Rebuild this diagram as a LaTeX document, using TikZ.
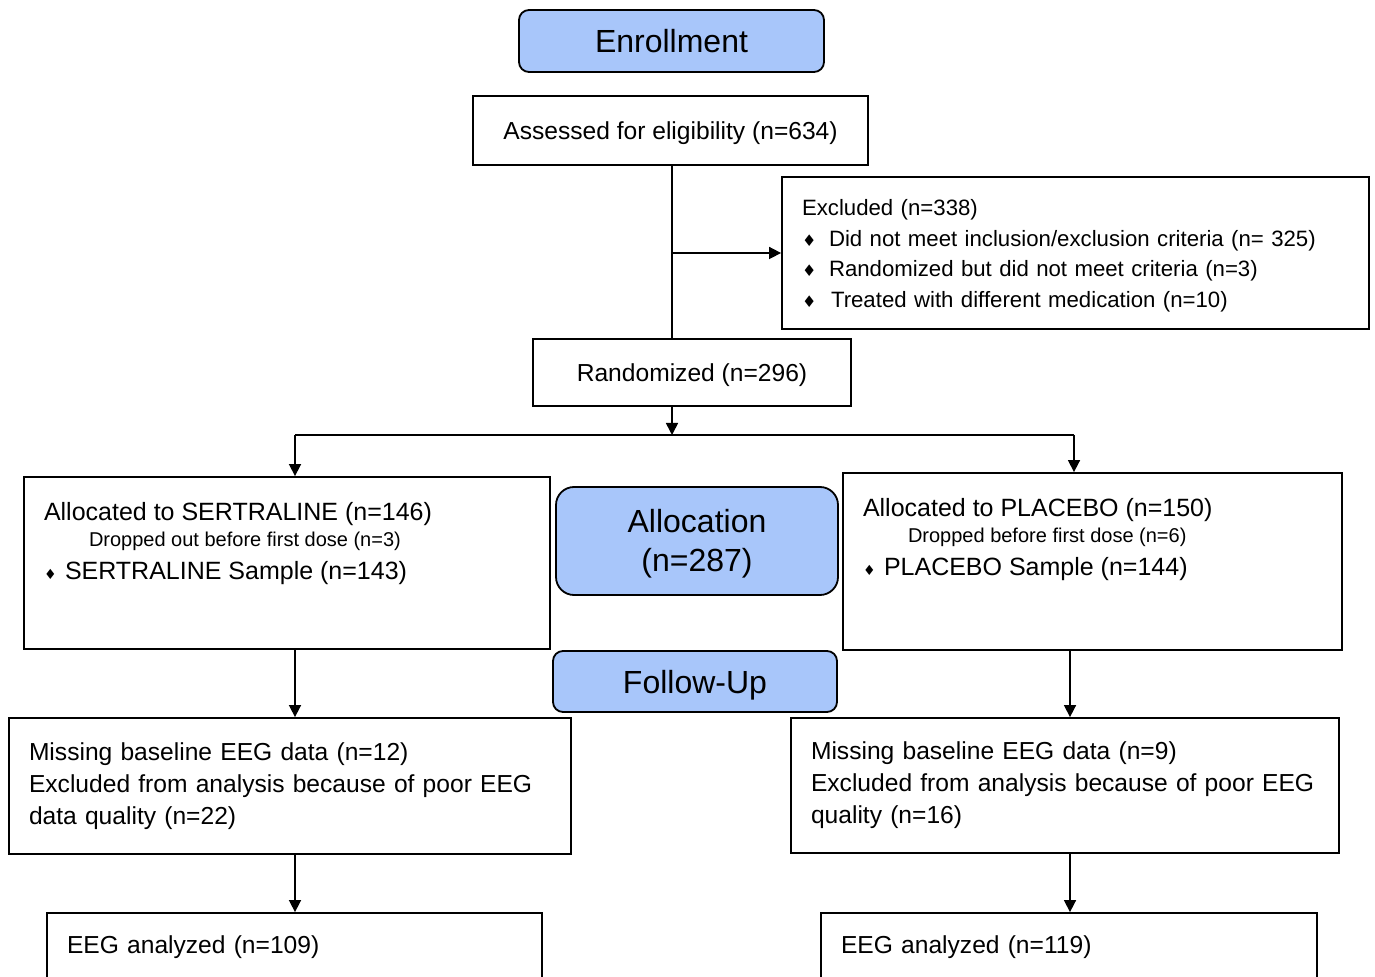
\documentclass[tikz,border=0pt]{standalone}
\usepackage{fontspec}
\setmainfont{Liberation Sans}
\newfontfamily\dejavu{DejaVu Sans}
\usetikzlibrary{arrows.meta,positioning}
\definecolor{headblue}{RGB}{168,198,250}
\newcommand{\dmd}[2]{\makebox[#2][l]{\dejavu\fontsize{#1}{#1}\selectfont ♦}}

\begin{document}
\begin{tikzpicture}[x=0.5pt,y=-0.5pt,
  box/.style={draw,line width=0.9pt,inner sep=0pt,font=\fontsize{12.3}{16}\selectfont},
  onebox/.style={box,text height=9pt,text depth=0pt},
  head/.style={box,fill=headblue,rounded corners=5pt,font=\fontsize{16}{19.5}\selectfont,align=center,
    text height=11.5pt,text depth=0pt},
  listbox/.style={box,align=left,inner xsep=10pt},
  armbox/.style={box,inner xsep=10pt,font=\fontsize{12.5}{16}\selectfont},
  arr/.style={line width=0.8pt,-{Triangle[length=6pt,width=6pt]}},
  link/.style={line width=0.8pt}]
  \useasboundingbox (0,0) rectangle (1375,977);

  % enrollment
  \node[head,minimum width=152.5pt,minimum height=31pt] (enrol) at (671.5,41) {Enrollment};
  \node[onebox,minimum width=197.5pt,minimum height=34.5pt] (assess) at (670.5,130.5) {Assessed for eligibility (n=634)};
  \node[listbox,text width=273.5pt,minimum height=76pt,font=\fontsize{11.1}{15.3}\selectfont] (excl) at (1075.5,253)
    {\rule{0pt}{11pt}Excluded (n=338)\\
     \dmd{8}{13.5pt}Did not meet inclusion/exclusion criteria (n= 325)\\
     \dmd{8}{13.5pt}Randomized but did not meet criteria (n=3)\\
     \dmd{8}{14.5pt}Treated with different medication (n=10)};
  \node[onebox,minimum width=159pt,minimum height=33.5pt] (rand) at (692,372.5) {Randomized (n=296)};

  % allocation
  \node[armbox,minimum height=86pt] (sert) at (287,563)
    {\parbox[c][61pt][t]{243pt}{\raggedright
     Allocated to SERTRALINE (n=146)\\[-3pt]
     {\fontsize{10}{13}\selectfont\hspace*{22.5pt}Dropped out before first dose (n=3)}\\[0.5pt]
     \dmd{7}{10.5pt}SERTRALINE Sample (n=143)}};
  \node[head,rounded corners=9pt,minimum width=141pt,minimum height=54pt,text height=31pt] (alloc) at (697,541) {Allocation\\(n=287)};
  \node[armbox,minimum height=88.5pt] (plac) at (1092.5,561.5)
    {\parbox[c][63.5pt][t]{229.5pt}{\raggedright
     Allocated to PLACEBO (n=150)\\[-3pt]
     {\fontsize{10}{13}\selectfont\hspace*{22.5pt}Dropped before first dose (n=6)}\\[0.5pt]
     \dmd{7}{10.5pt}PLACEBO Sample (n=144)}};

  % follow-up
  \node[head,minimum width=142pt,minimum height=30.5pt] (follow) at (695,681.5) {Follow-Up};
  \node[listbox,text width=261pt,minimum height=68pt] (follL) at (290,786)
    {Missing baseline EEG data (n=12)\\
     Excluded from analysis because of poor EEG\\
     data quality (n=22)};
  \node[listbox,text width=254pt,minimum height=67.5pt] (follR) at (1065,785.5)
    {Missing baseline EEG data (n=9)\\
     Excluded from analysis because of poor EEG\\
     quality (n=16)};
  \node[listbox,text width=227.5pt,minimum height=34pt] (eegL) at (294.5,947) {EEG analyzed (n=109)};
  \node[listbox,text width=228pt,minimum height=34pt] (eegR) at (1069,947) {EEG analyzed (n=119)};

  % connectors
  \coordinate (split) at (672,435);
  \coordinate (splitL) at (295,435);
  \coordinate (splitR) at (1074,435);
  \coordinate (colR) at (1070,435);
  \draw[link] (split |- assess.south) -- (split |- rand.north);
  \draw[arr] (split |- excl.west) -- (excl.west);
  \draw[arr] (split |- rand.south) -- (split);
  \draw[link] (splitL) -- (splitR);
  \draw[arr] (splitL) -- (splitL |- sert.north);
  \draw[arr] (splitR) -- (splitR |- plac.north);
  \draw[arr] (splitL |- sert.south) -- (splitL |- follL.north);
  \draw[arr] (splitL |- follL.south) -- (splitL |- eegL.north);
  \draw[arr] (colR |- plac.south) -- (colR |- follR.north);
  \draw[arr] (colR |- follR.south) -- (colR |- eegR.north);
\end{tikzpicture}
\end{document}
